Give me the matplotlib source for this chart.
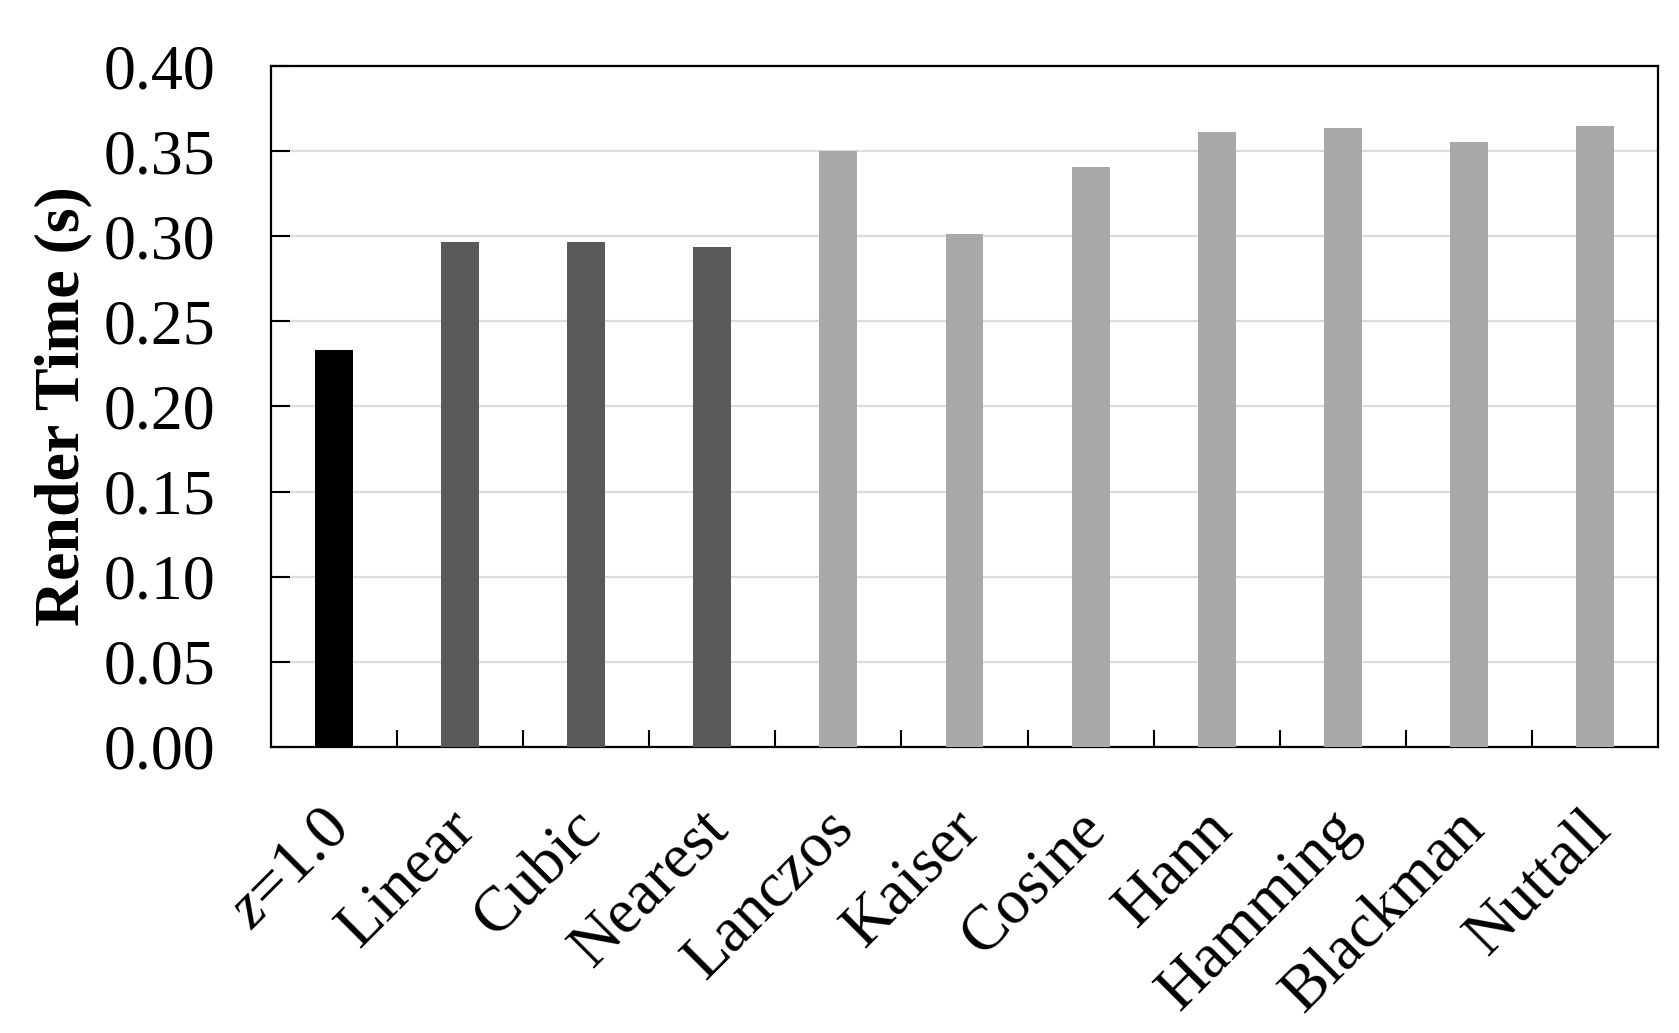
import matplotlib
matplotlib.use('Agg')
import matplotlib.pyplot as plt
import matplotlib.transforms as mtransforms
import numpy as np

# --------------------------------------------------------------
# Data
# --------------------------------------------------------------
methods = ['$z$=1.0', 'Linear', 'Cubic', 'Nearest', 'Lanczos', 'Kaiser',
           'Cosine', 'Hann', 'Hamming', 'Blackman', 'Nuttall']
render_time = [0.233, 0.2965, 0.2965, 0.2935, 0.350, 0.3015,
               0.3405, 0.3615, 0.3633, 0.3552, 0.3650]
bar_colors = ['#000000'] + ['#5a5a5a'] * 3 + ['#a9a9a9'] * 7
y_ticks = [0.00, 0.05, 0.10, 0.15, 0.20, 0.25, 0.30, 0.35, 0.40]

plt.rcParams['font.family'] = ['Liberation Serif', 'DejaVu Serif']
plt.rcParams['mathtext.fontset'] = 'custom'
plt.rcParams['mathtext.it'] = 'Liberation Serif:italic'
plt.rcParams['mathtext.rm'] = 'Liberation Serif'

fig = plt.figure(figsize=(16.79, 10.33), dpi=100)
ax = fig.add_axes([0.1614, 0.2769, 0.8261, 0.6592])

x = np.arange(len(methods))
ax.bar(x, render_time, width=0.3, color=bar_colors, zorder=3)

ax.set_xlim(-0.5, len(methods) - 0.5)
ax.set_ylim(0, 0.40)
ax.set_yticks(y_ticks)
ax.set_yticklabels([f'{v:.2f}' for v in y_ticks])
ax.yaxis.grid(True, color='#dcdcdc', linewidth=1.6, zorder=0)
ax.set_axisbelow(True)

# category labels at bar centres, tick marks between bars
ax.set_xticks(x)
ax.set_xticklabels(methods, rotation=45, ha='right', fontsize=46)
ax.set_xticks(np.arange(0.5, len(methods) - 1, 1.0), minor=True)
ax.tick_params(axis='x', which='major', length=0, pad=30)
ax.tick_params(axis='x', which='minor', direction='in', length=12, width=1.5)
ax.tick_params(axis='y', direction='in', length=14, width=1.5, labelsize=46, pad=40)

# nudge the slanted labels right/down like the original
shift = mtransforms.ScaledTranslation(0.27, -0.11, fig.dpi_scale_trans)
for lbl in ax.get_xticklabels():
    lbl.set_transform(lbl.get_transform() + shift)

for s in ax.spines.values():
    s.set_linewidth(1.6)

ax.set_ylabel('Render Time (s)', fontsize=46, fontweight='bold')
ax.yaxis.set_label_coords(-0.129, 0.5)

fig.savefig('out.png', dpi=100)
